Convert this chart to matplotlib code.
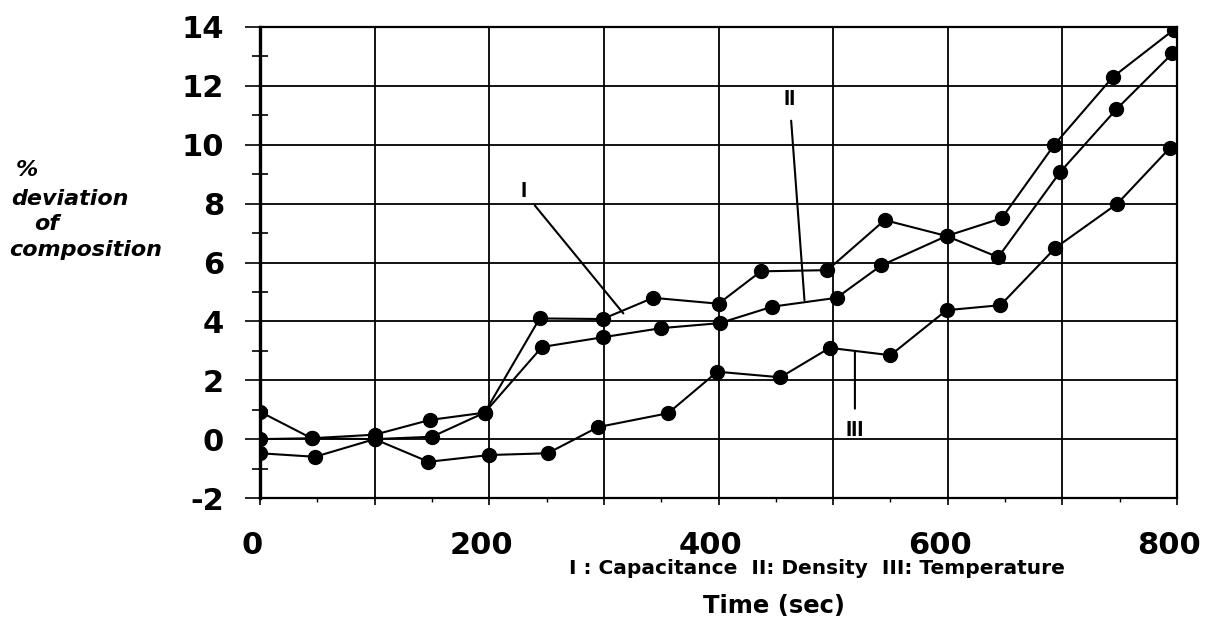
import matplotlib
matplotlib.use("Agg")
import matplotlib.pyplot as plt
import matplotlib.transforms as mtransforms
from matplotlib.ticker import MultipleLocator

# I: capacitance
t_cap = [0, 45, 100, 148, 196, 244, 299, 343, 400, 437, 495, 545, 599, 644, 698, 747, 796]
dev_cap = [0.93, 0.03, 0.15, 0.65, 0.9, 4.1, 4.08, 4.8, 4.6, 5.7, 5.74, 7.44, 6.9, 6.18, 9.07, 11.2, 13.1]

# II: density
t_den = [0, 45, 100, 150, 196, 246, 299, 350, 401, 447, 503, 542, 599, 647, 693, 744, 797]
dev_den = [0.0, 0.03, 0.0, 0.08, 0.9, 3.13, 3.46, 3.77, 3.94, 4.5, 4.8, 5.9, 6.9, 7.5, 10.0, 12.3, 13.9]

# III: temperature
t_tmp = [0, 48, 100, 147, 200, 251, 295, 356, 399, 454, 497, 550, 599, 646, 694, 748, 794]
dev_tmp = [-0.48, -0.6, 0.0, -0.77, -0.54, -0.48, 0.41, 0.88, 2.29, 2.1, 3.1, 2.85, 4.38, 4.55, 6.5, 8.0, 9.9]

x_ticks = [0, 100, 200, 300, 400, 500, 600, 700, 800]
x_labels = ["0", "", "200", "", "400", "", "600", "", "800"]
y_ticks = [-2, 0, 2, 4, 6, 8, 10, 12, 14]

fig = plt.figure(figsize=(12.11, 6.18), dpi=100)
ax = fig.add_axes([260 / 1211, 1 - 498 / 618, (1177 - 260) / 1211, (498 - 27) / 618])

for t, d in [(t_cap, dev_cap), (t_den, dev_den), (t_tmp, dev_tmp)]:
    ax.plot(t, d, color="black", lw=1.5, marker="o", markersize=10,
            markerfacecolor="black", markeredgecolor="black", zorder=3)

ax.set_xlim(0, 800)
ax.set_ylim(-2, 14)
ax.set_xticks(x_ticks)
ax.set_yticks(y_ticks)
ax.xaxis.set_minor_locator(MultipleLocator(50))
ax.yaxis.set_minor_locator(MultipleLocator(1))
ax.grid(True, which="major", color="black", lw=1.3)
ax.set_axisbelow(True)

for side in ["top", "bottom", "right"]:
    ax.spines[side].set_linewidth(1.6)
ax.spines["left"].set_linewidth(2.4)

tick_font = dict(family="DejaVu Sans", weight="bold", size=22)
ax.tick_params(axis="y", which="major", length=11, width=1.2, pad=15)
ax.tick_params(axis="y", which="minor", length=12, width=1.2, direction="inout")
ax.tick_params(axis="x", which="major", length=5, width=1.2, pad=19)
ax.tick_params(axis="x", which="minor", length=3, width=1.0)
ax.set_xticklabels(x_labels, fontdict=tick_font)
ax.set_yticklabels([str(v) for v in y_ticks], fontdict=tick_font)

# x labels sit a little left of their gridlines
shift = mtransforms.ScaledTranslation(-8 / 100, 0, fig.dpi_scale_trans)
for lab in ax.get_xticklabels():
    lab.set_transform(lab.get_transform() + shift)

# curve labels with leader lines
lbl = dict(fontsize=16, fontweight="bold", family="Liberation Sans")
ax.annotate("I", xy=(317, 4.27), xytext=(230, 8.4), ha="center", va="center",
            arrowprops=dict(arrowstyle="-", lw=1.5, color="black", shrinkA=6, shrinkB=0), **lbl)
ax.annotate("II", xy=(475, 4.72), xytext=(462, 11.55), ha="center", va="center",
            arrowprops=dict(arrowstyle="-", lw=1.5, color="black", shrinkA=6, shrinkB=0), **lbl)
ax.annotate("III", xy=(519, 2.95), xytext=(519, 0.3), ha="center", va="center",
            arrowprops=dict(arrowstyle="-", lw=1.5, color="black", shrinkA=6, shrinkB=0), **lbl)

# y axis title, one line at a time
ylab = dict(family="DejaVu Sans", weight="bold", style="italic", size=16, va="center", ha="left")
fig.text(16 / 1211, 1 - 170 / 618, "%", **ylab)
fig.text(11 / 1211, 1 - 199 / 618, "deviation", **ylab)
fig.text(34 / 1211, 1 - 224 / 618, "of", **ylab)
fig.text(9 / 1211, 1 - 250 / 618, "composition", **ylab)

fig.text(817 / 1211, 1 - 568 / 618, "I : Capacitance  II: Density  III: Temperature",
         family="DejaVu Sans", weight="bold", size=14.5, ha="center", va="center")
fig.text(774 / 1211, 1 - 606 / 618, "Time (sec)",
         family="DejaVu Sans", weight="bold", size=17.5, ha="center", va="center")

fig.savefig("out.png", dpi=100, facecolor="white")
